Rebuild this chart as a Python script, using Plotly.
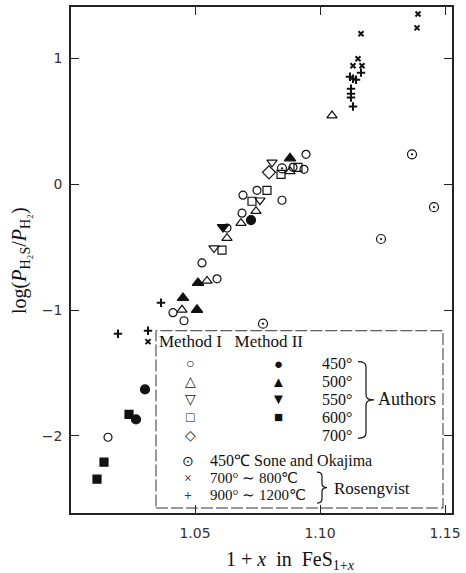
import plotly.graph_objects as go

# ---- Authors, Method I (open symbols) ----
m1_450_x = [1.0892, 1.0936, 1.0944, 1.0692, 1.0748, 1.0848, 1.0688, 1.0628, 1.0528, 1.0588, 1.0412, 1.0456, 1.0152]
m1_450_y = [0.135, 0.119, 0.238, -0.087, -0.048, -0.127, -0.230, -0.348, -0.625, -0.752, -1.021, -1.085, -2.011]
m1_500_x = [1.1048, 1.0684, 1.0628, 1.0548, 1.0448, 1.0744, 1.0880]
m1_500_y = [0.546, -0.309, -0.428, -0.768, -0.998, -0.214, 0.103]
m1_550_x = [1.0808, 1.0576, 1.0760]
m1_550_y = [0.174, -0.507, -0.127]
m1_600_x = [1.0844, 1.0912, 1.0788, 1.0728, 1.0608]
m1_600_y = [0.079, 0.135, -0.048, -0.135, -0.523]
m1_700_x = [1.0796]
m1_700_y = [0.095]

# ---- Authors, Method II (filled symbols) ----
m2_450_x = [1.0300, 1.0264, 1.0724]
m2_450_y = [-1.631, -1.869, -0.285]
m2_500_x = [1.0880, 1.0512, 1.0452, 1.0508]
m2_500_y = [0.206, -0.784, -0.903, -0.998]
m2_550_x = [1.0612]
m2_550_y = [-0.340]
m2_600_x = [1.0236, 1.0136, 1.0108]
m2_600_y = [-1.829, -2.209, -2.344]

# ---- Sone and Okajima, 450 C ----
sone_x = [1.1368, 1.1456, 1.1244, 1.0772, 1.0848]
sone_y = [0.238, -0.182, -0.435, -1.108, 0.127]

# ---- Rosengvist ----
ros_lo_x = [1.1392, 1.1388, 1.1164, 1.1152, 1.1132, 1.1168, 1.0312]
ros_lo_y = [1.354, 1.243, 1.196, 0.998, 0.942, 0.942, -1.251]
ros_hi_x = [1.1164, 1.1120, 1.1132, 1.1144, 1.1124, 1.1124, 1.1124, 1.1132, 1.0192, 1.0312, 1.0364]
ros_hi_y = [0.887, 0.855, 0.839, 0.831, 0.760, 0.720, 0.689, 0.618, -1.188, -1.164, -0.942]

x_ticks = [1.00, 1.05, 1.10, 1.15]
y_ticks = [-2, -1, 0, 1]

W, H = 466, 573
L, R, T, B = 71, 14, 5, 60
INK = "#111111"
SERIF = "Liberation Serif"


def fx(p):
    return (p - L) / (W - L - R)


def fy(p):
    return (H - B - p) / (H - T - B)


series = [
    (m1_450_x, m1_450_y, "circle-open", 8),
    (m1_500_x, m1_500_y, "triangle-up-open", 9),
    (m1_550_x, m1_550_y, "triangle-down-open", 9),
    (m1_600_x, m1_600_y, "square-open", 8),
    (m1_700_x, m1_700_y, "diamond-open", 10),
    (m2_450_x, m2_450_y, "circle", 9),
    (m2_500_x, m2_500_y, "triangle-up", 10),
    (m2_550_x, m2_550_y, "triangle-down", 10),
    (m2_600_x, m2_600_y, "square", 8),
    (sone_x, sone_y, "circle-open-dot", 9),
    (ros_lo_x, ros_lo_y, "x-thin", 5),
    (ros_hi_x, ros_hi_y, "cross-thin", 6),
]

fig = go.Figure()
for xs, ys, sym, sz in series:
    lw = 2 if sym.endswith("thin") else 1.2
    fig.add_trace(go.Scatter(
        x=xs, y=ys, mode="markers", showlegend=False,
        marker=dict(symbol=sym, size=sz, color=INK,
                    line=dict(color=INK, width=lw)),
    ))

axis_common = dict(
    showgrid=False, zeroline=False, showline=True, linecolor="#222222",
    linewidth=1.6, mirror="ticks", ticks="inside", ticklen=8,
    tickcolor="#222222", tickwidth=1.4,
    tickfont=dict(family="DejaVu Sans", size=14, color="#333333"),
)

fig.update_xaxes(range=[1.0004, 1.1528], tickvals=x_ticks,
                 tickformat=".2f", ticklabelstandoff=6, **axis_common)
fig.update_yaxes(range=[-2.613, 1.409], tickvals=y_ticks,
                 ticklabelstandoff=4, **axis_common)

annotations = []


def text(x, y, s, size=16, anchor="left", angle=0):
    annotations.append(dict(
        x=fx(x), y=fy(y), xref="paper", yref="paper", text=s,
        showarrow=False, xanchor=anchor, yanchor="middle", textangle=angle,
        font=dict(family=SERIF, size=size, color=INK), borderpad=0,
    ))


# axis titles
text(290, 561, "1 + <i>x</i>  in  FeS<sub>1+<i>x</i></sub>", 20, "center")
text(21, 260, "log(<i>P</i><sub>H₂S</sub>/<i>P</i><sub>H₂</sub>)", 20, "center", -90)

# key
text(158, 341, "Method I   Method II", 17)
rows = [
    (363, "○", "●", "450°"),
    (381, "△", "▲", "500°"),
    (399, "▽", "▼", "550°"),
    (417, "□", "■", "600°"),
    (435, "◇", "", "700°"),
]
for y, g1, g2, lab in rows:
    text(190, y, g1, 14, "center")
    if g2:
        text(278, y, g2, 15, "center")
    text(321, y, lab, 16)
text(377, 399, "Authors", 18)

text(188, 461, "⊙", 14, "center")
text(209, 461, "450℃ Sone and Okajima", 16)
text(188, 478, "×", 14, "center")
text(209, 478, "700° ∼ 800℃", 15)
text(188, 495, "+", 14, "center")
text(209, 495, "900° ∼ 1200℃", 15)
text(333, 488, "Rosengvist", 17)


def brace(x0, y0, y1, w, r=5):
    xm, x2, ym = x0 + w / 2, x0 + w, (y0 + y1) / 2
    pts = [
        ("M", [(x0, y0)]),
        ("Q", [(xm, y0), (xm, y0 + r)]),
        ("L", [(xm, ym - r)]),
        ("Q", [(xm, ym), (x2, ym)]),
        ("Q", [(xm, ym), (xm, ym + r)]),
        ("L", [(xm, y1 - r)]),
        ("Q", [(xm, y1), (x0, y1)]),
    ]
    out = []
    for cmd, ps in pts:
        out.append(cmd + " " + " ".join(f"{fx(a):.5f},{fy(b):.5f}" for a, b in ps))
    return " ".join(out)


shapes = [
    dict(type="rect", xref="paper", yref="paper",
         x0=fx(156), x1=fx(443), y0=fy(508), y1=fy(330),
         line=dict(color="#333333", width=1, dash="12px,3px")),
    dict(type="path", xref="paper", yref="paper", path=brace(358, 361, 438, 16),
         line=dict(color=INK, width=1.2)),
    dict(type="path", xref="paper", yref="paper", path=brace(317, 472, 503, 10, 4),
         line=dict(color=INK, width=1.2)),
]

fig.update_layout(
    width=W, height=H, margin=dict(l=L, r=R, t=T, b=B),
    paper_bgcolor="white", plot_bgcolor="white",
    annotations=annotations, shapes=shapes,
)

fig.write_html("out.html")
